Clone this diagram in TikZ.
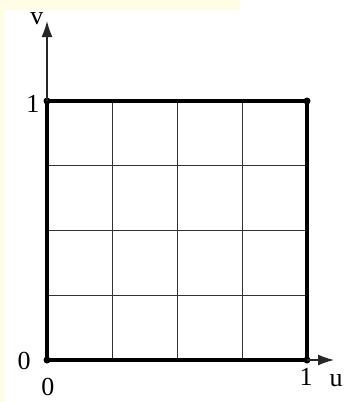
\documentclass[tikz,border=0pt]{standalone}
\usepackage{fontspec}
\setmainfont{Liberation Serif}
\usetikzlibrary{arrows.meta}
\definecolor{cream}{HTML}{FFFDE6}
\begin{document}
\begin{tikzpicture}[x=1pt,y=-1pt,
  lbl/.style={inner sep=0pt,font=\fontsize{26}{30}\selectfont},
  dotnode/.style={circle,fill=black,inner sep=0pt,minimum size=7pt},
  gridline/.style={line width=1.3pt,black!80},
  border/.style={line width=3.4pt,black},
  axis/.style={line width=1.4pt,black!85,-{Latex[length=16pt,width=11pt]}}]
\useasboundingbox (0,0) rectangle (345,402);
\fill[white] (0,0) rectangle (345,402);
\fill[cream] (0,0) rectangle (240,10);
\fill[cream] (0,0) rectangle (5,402);
% grid
\foreach \x in {112.75,177.5,242.25} \draw[gridline] (\x,101) -- (\x,360);
\foreach \y in {165.75,230.5,295.25} \draw[gridline] (47,\y) -- (307,\y);
% corners
\node[dotnode] (c00) at (47,360) {};
\node[dotnode] (c10) at (307,360) {};
\node[dotnode] (c01) at (47,101) {};
\node[dotnode] (c11) at (307,101) {};
\draw[border] (c00.center) -- (c10.center) -- (c11.center) -- (c01.center) -- cycle;
% axes
\coordinate (vtip) at (47,21);
\coordinate (utip) at (334,360);
\draw[axis] (c01.center) -- (vtip);
\draw[axis] (c10.center) -- (utip);
% labels
\node[lbl] (lv) at (37,19) {v};
\node[lbl] (lu) at (336,381) {u};
\node[lbl] (l1x) at (306,377) {1};
\node[lbl] (l0x) at (48,387) {0};
\node[lbl] (l0y) at (24,361) {0};
\node[lbl] (l1y) at (33,104) {1};
\end{tikzpicture}
\end{document}
